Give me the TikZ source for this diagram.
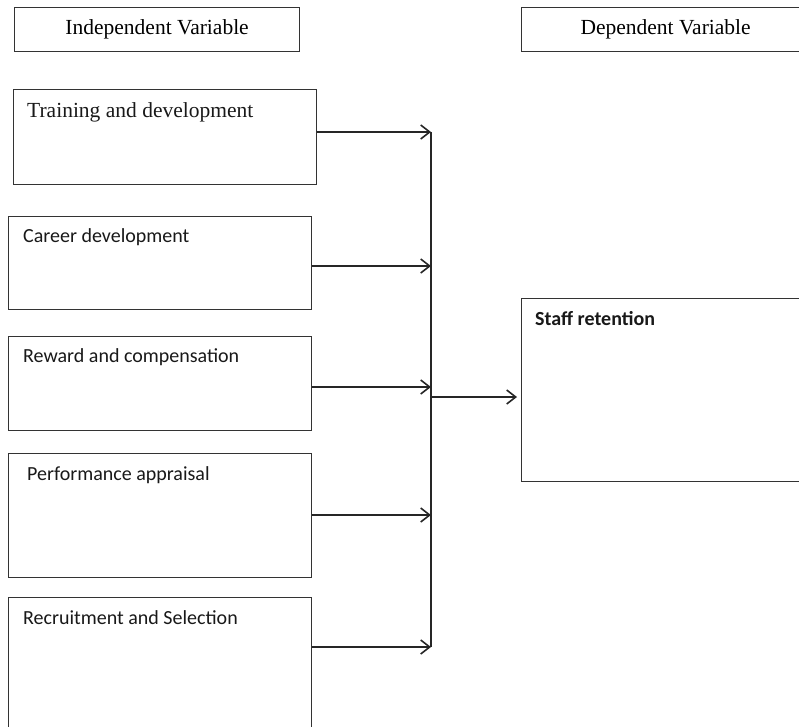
\documentclass[tikz,border=0pt]{standalone}
\usepackage{fontspec}
\setmainfont{Liberation Serif}
\setsansfont{Carlito}
\usepackage{xcolor}
\usetikzlibrary{calc,positioning,arrows.meta}
\tikzset{
  box/.style={ % image of a variable box
    draw=black!80, line width=1.2pt, rectangle,
    anchor=north west, inner sep=0pt, fill=white
  },
  head/.style={ % box holding a column heading
    box, font=\fontsize{21.5}{24}\selectfont
  },
  lbl/.style={ % text in the top corner of a box
    inner sep=0pt, text=black!90,
    font=\sffamily\fontsize{20}{24}\selectfont
  },
  link/.style={
    draw=black!85, line width=1.3pt,
    -{Straight Barb[length=9pt,width=14pt,line width=1.6pt]}
  }
}

\begin{document}
\begin{tikzpicture}[x=1pt, y=-1pt]
      \useasboundingbox[fill=white] (0,0) rectangle (799,726);

      \node[head, minimum width=285pt, minimum height=44pt] (indep) at (14,7) {Independent Variable};
      \node[head, minimum width=288pt, minimum height=44pt] (dep) at (521,7) {Dependent Variable};

      \node[box, minimum width=303pt, minimum height=95pt] (train) at (13,89) {};
      \node[box, minimum width=303pt, minimum height=93pt] (career) at (8,216) {};
      \node[box, minimum width=303pt, minimum height=94pt] (reward) at (8,336) {};
      \node[box, minimum width=303pt, minimum height=124pt] (perf) at (8,453) {};
      \node[box, minimum width=303pt, minimum height=140pt] (recruit) at (8,597) {};
      \node[box, minimum width=290pt, minimum height=183pt] (staff) at (521,298) {};

      \node[lbl, font=\fontsize{21.5}{24}\selectfont] (train_label)[below right=13.5pt and 14pt of train.north west]{Training and development};
      \node[lbl] (career_label)[below right=12pt and 15pt of career.north west]{Career development};
      \node[lbl] (reward_label)[below right=12pt and 15pt of reward.north west]{Reward and compensation};
      \node[lbl] (perf_label)[below right=13pt and 19pt of perf.north west]{Performance appraisal};
      \node[lbl] (recruit_label)[below right=13pt and 15pt of recruit.north west]{Recruitment and Selection};
      \node[lbl, font=\sffamily\bfseries\fontsize{20}{24}\selectfont] (staff_label)[below right=13pt and 14pt of staff.north west]{Staff retention};

      % joints on the collecting line
      \coordinate (j1) at (431,132);
      \coordinate (j2) at (431,266);
      \coordinate (j3) at (431,387);
      \coordinate (j4) at (431,515);
      \coordinate (j5) at (431,647);
      \coordinate (hub) at (431,397);

      \draw[link] (j1 -| train.east) -- (j1);
      \draw[link] (j2 -| career.east) -- (j2);
      \draw[link] (j3 -| reward.east) -- (j3);
      \draw[link] (j4 -| perf.east) -- (j4);
      \draw[link] (j5 -| recruit.east) -- (j5);
      \draw[draw=black!85, line width=1.3pt] (j1) -- (j5);
      \draw[link, shorten >=4pt] (hub) -- (hub -| staff.west);
    \end{tikzpicture}
\end{document}
